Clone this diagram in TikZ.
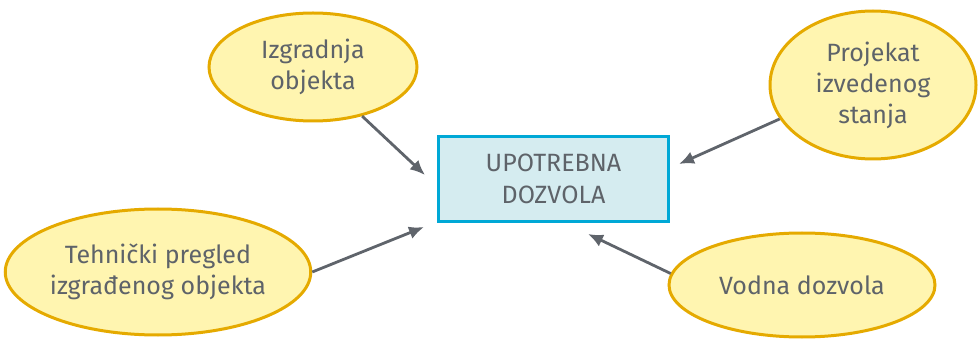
\documentclass[tikz,border=0pt]{standalone}
\usepackage{fontspec}
\setmainfont{Fira Sans}
\usetikzlibrary{shapes.geometric,arrows.meta}
\definecolor{txtgray}{HTML}{5E6369}
\definecolor{arrgray}{HTML}{5F646B}
\definecolor{bubblefill}{HTML}{FFF5B0}
\definecolor{bubbleedge}{HTML}{E5AA00}
\definecolor{boxfill}{HTML}{D5ECF0}
\definecolor{boxedge}{HTML}{00A8D6}
\begin{document}
\begin{tikzpicture}[x=1pt,y=1pt,
  bubble/.style={ellipse, draw=bubbleedge, fill=bubblefill, line width=3pt,
    inner sep=0pt, align=center, text=txtgray,
    font=\fontsize{25}{31}\selectfont},
  mainbox/.style={rectangle, draw=boxedge, fill=boxfill, line width=3.6pt,
    inner sep=0pt, align=center, text=txtgray,
    minimum width=230pt, minimum height=85pt,
    font=\fontsize{25}{32}\selectfont},
  link/.style={draw=arrgray, line width=2.8pt,
    -{Latex[length=15pt,width=13pt]}}]
\useasboundingbox (0,0) rectangle (979,340);

% central document
\node[mainbox] (permit) at (553.5,161) {UPOTREBNA\\DOZVOLA};

% surrounding prerequisites
\node[bubble, minimum width=208pt, minimum height=108pt] (build) at (313,273)
  {Izgradnja\\objekta};
\node[bubble, minimum width=206pt, minimum height=148pt] (asbuilt) at (873,255)
  {Projekat\\izvedenog\\stanja};
\node[bubble, minimum width=298pt, minimum height=126pt] (inspect) at (158,68)
  {Tehnički pregled\\izgrađenog objekta};
\node[bubble, minimum width=266pt, minimum height=104pt] (water) at (802,55)
  {Vodna dozvola};

% arrow tips stop short of the box
\coordinate (tBuild) at (425,165);
\coordinate (tAsbuilt) at (679,176);
\coordinate (tInspect) at (424,113);
\coordinate (tWater) at (588,106);

\draw[link] (build.315) -- (tBuild);
\draw[link] (asbuilt.200) -- (tAsbuilt);
\draw[link] (inspect.east) -- (tInspect);
\draw[link] (water.175) -- (tWater);
\end{tikzpicture}
\end{document}
